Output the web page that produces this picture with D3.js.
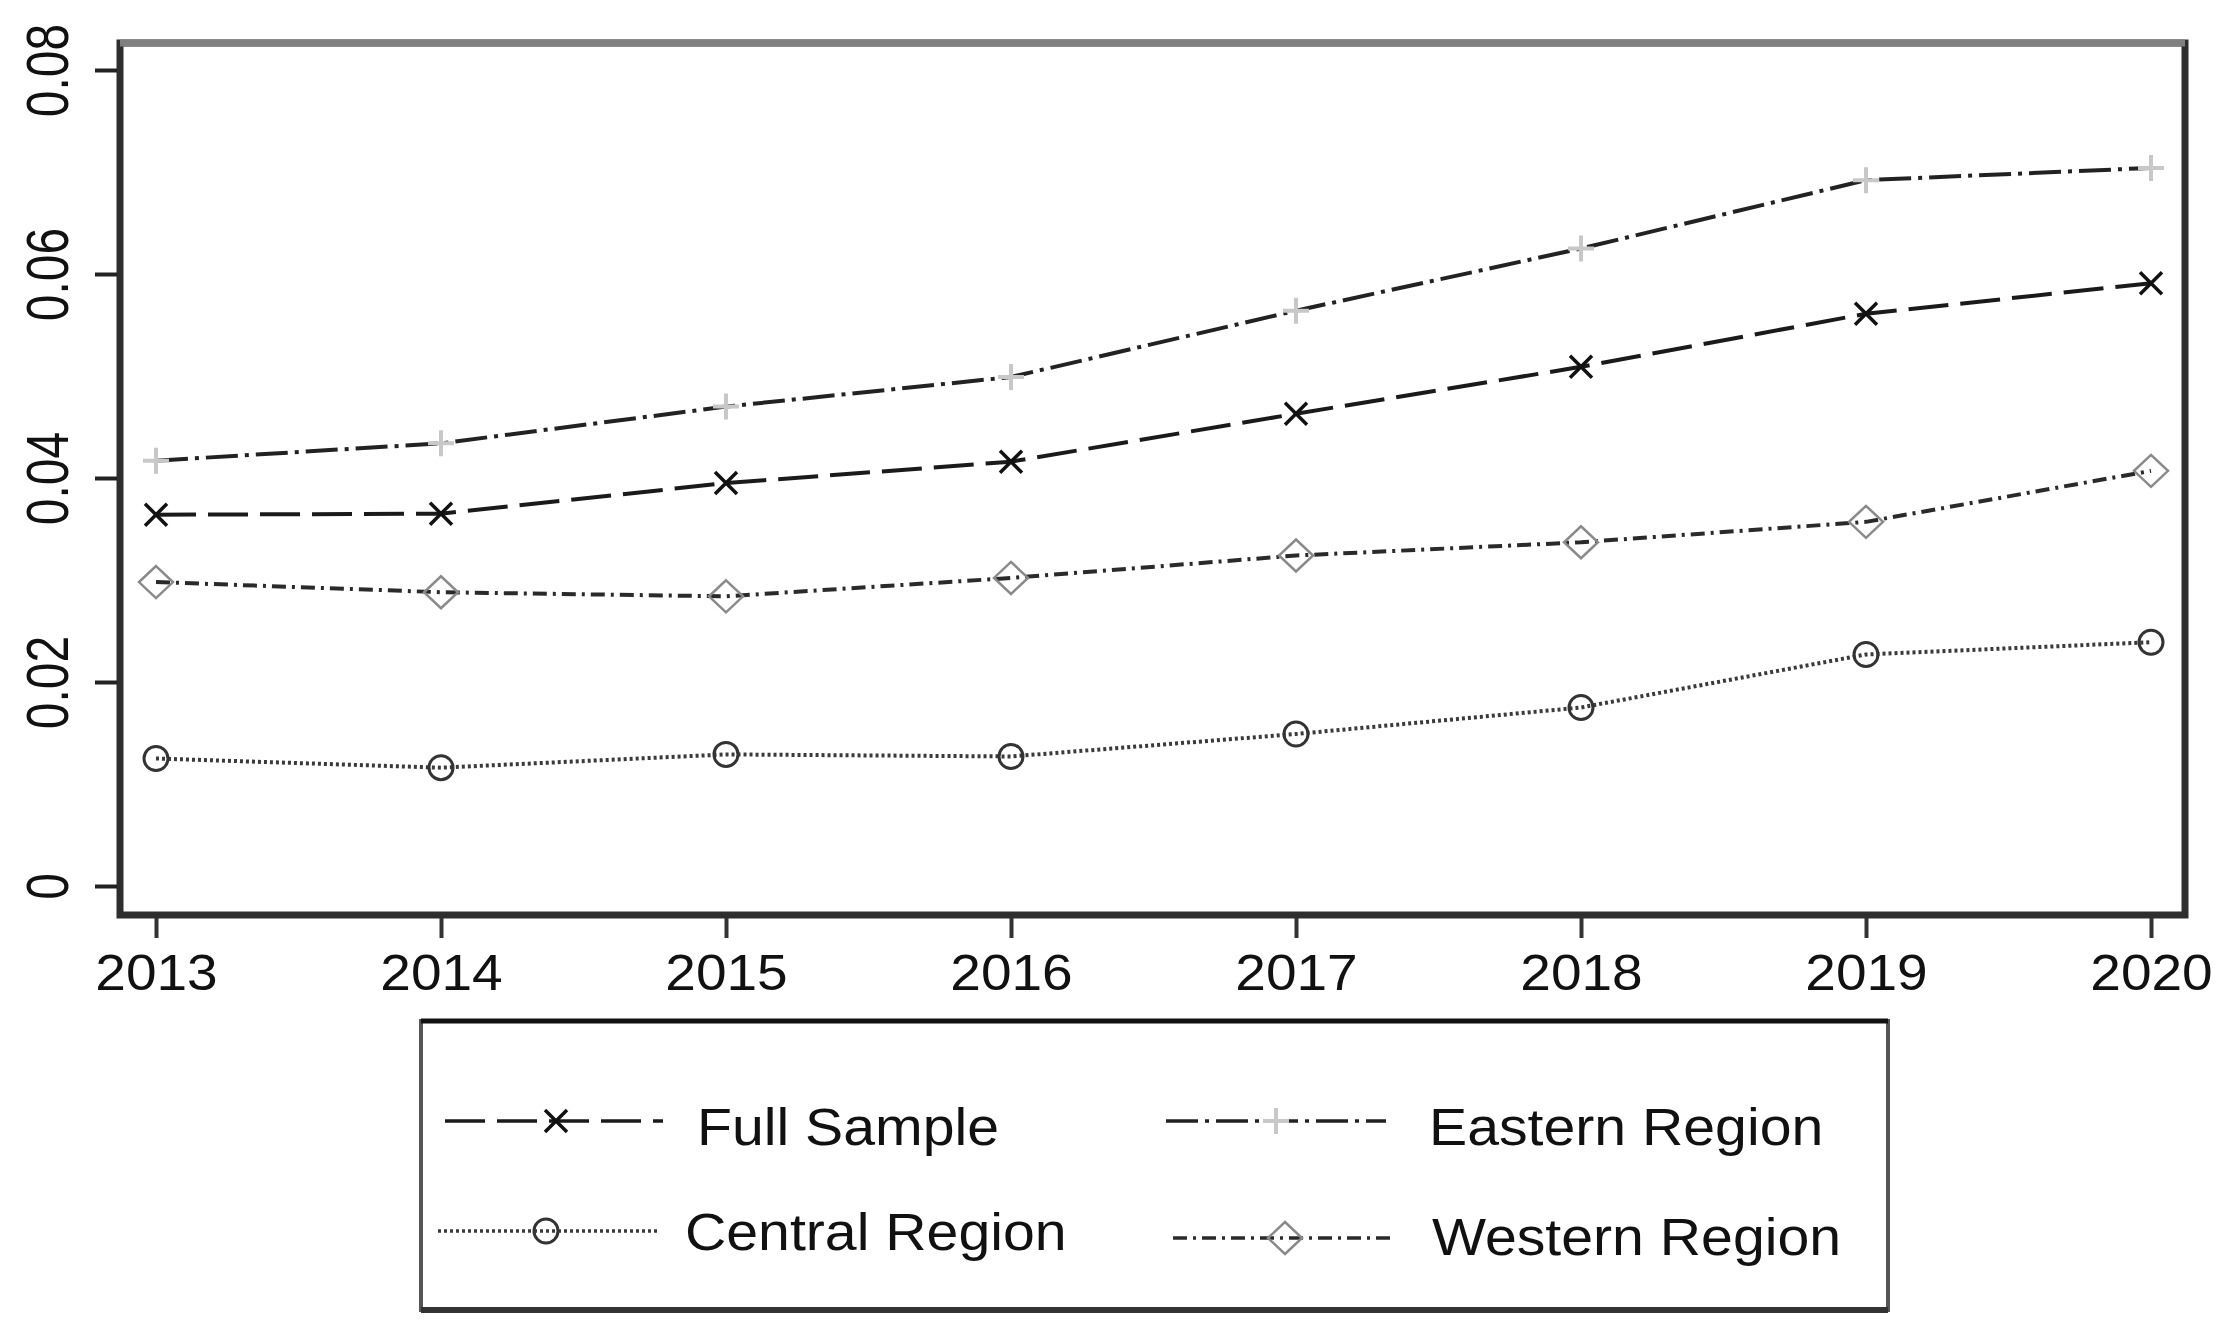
<!DOCTYPE html>
<html>
<head>
<meta charset="utf-8">
<script src="https://cdn.jsdelivr.net/npm/d3@7"></script>
<style>
  body { margin: 0; background: #fff; }
  text { font-family: "Liberation Sans", Arial, sans-serif; fill: #111; }
</style>
</head>
<body>
<div id="chart"></div>
<script>
// data
var years = [2013, 2014, 2015, 2016, 2017, 2018, 2019, 2020];
var fullSample = [0.0364, 0.0365, 0.0395, 0.0416, 0.0463, 0.0509, 0.0561, 0.0591];
var eastern = [0.0417, 0.0434, 0.0470, 0.0499, 0.0564, 0.0625, 0.0692, 0.0704];
var central = [0.0125, 0.0116, 0.0129, 0.0127, 0.0149, 0.0175, 0.0227, 0.0239];
var western = [0.0298, 0.0288, 0.0284, 0.0302, 0.0324, 0.0337, 0.0357, 0.0407];
var yTicks = [0, 0.02, 0.04, 0.06, 0.08];
var seriesNames = ["Full Sample", "Eastern Region", "Central Region", "Western Region"];

const width = 2227;
const height = 1339;

// plot frame
const frame = { left: 120, top: 43, right: 2185, bottom: 915 };

const svg = d3.select("#chart").append("svg")
    .attr("width", width)
    .attr("height", height);

const x = d3.scaleLinear().domain([2013, 2020]).range([156, 2151]);
const y = d3.scaleLinear().domain([0, 0.08]).range([886, 70]);

// series styles: dash, marker, colours
var styles = [
    { values: fullSample, dash: "40,12", stroke: "#1a1a1a", marker: "x", mcol: "#111" },
    { values: eastern, dash: "32,7,4,7", stroke: "#222", marker: "plus", mcol: "#c8c8c8" },
    { values: central, dash: "3,3", stroke: "#3a3a3a", marker: "circle", mcol: "#333" },
    { values: western, dash: "14,6,3,6", stroke: "#2a2a2a", marker: "diamond", mcol: "#8a8a8a" }
];

// frame box
svg.append("rect")
    .attr("x", frame.left).attr("y", frame.top)
    .attr("width", frame.right - frame.left)
    .attr("height", frame.bottom - frame.top)
    .attr("fill", "none")
    .attr("stroke", "#2e2e2e")
    .attr("stroke-width", 7);
svg.append("line")
    .attr("x1", frame.left).attr("x2", frame.right)
    .attr("y1", frame.top).attr("y2", frame.top)
    .attr("stroke", "#808080").attr("stroke-width", 7);

// y axis
const yAxis = svg.append("g")
    .attr("transform", `translate(${frame.left - 3},0)`)
    .call(d3.axisLeft(y).tickValues(yTicks).tickSize(22).tickPadding(0)
        .tickFormat(d => d === 0 ? "0" : d3.format(".2f")(d)));
yAxis.select(".domain").remove();
yAxis.selectAll(".tick line").attr("stroke", "#222").attr("stroke-width", 4);
yAxis.selectAll(".tick text")
    .attr("x", null).attr("dy", null)
    .attr("text-anchor", "middle")
    .attr("dominant-baseline", "central")
    .attr("font-size", 48)
    .attr("fill", "#111")
    .attr("transform", "translate(-69,0) rotate(-90) scale(1,1.25)");

// x axis
const xAxis = svg.append("g")
    .attr("transform", `translate(0,${frame.bottom + 3})`)
    .call(d3.axisBottom(x).tickValues(years).tickSize(20).tickFormat(d3.format("d")));
xAxis.select(".domain").remove();
xAxis.selectAll(".tick line").attr("stroke", "#333").attr("stroke-width", 4);
xAxis.selectAll(".tick text")
    .attr("y", null).attr("dy", null)
    .attr("font-size", 50)
    .attr("fill", "#111")
    .attr("transform", "translate(0,72) scale(1.1,1)");

// draws one marker shape
function drawMarker(g, type, cx, cy, col) {
    if (type === "x") {
        const s = 11;
        g.append("path")
            .attr("d", `M${cx - s},${cy - s}L${cx + s},${cy + s}M${cx - s},${cy + s}L${cx + s},${cy - s}`)
            .attr("stroke", col).attr("stroke-width", 3.5).attr("fill", "none");
    } else if (type === "plus") {
        const s = 13;
        g.append("path")
            .attr("d", `M${cx - s},${cy}L${cx + s},${cy}M${cx},${cy - s}L${cx},${cy + s}`)
            .attr("stroke", col).attr("stroke-width", 4).attr("fill", "none");
    } else if (type === "circle") {
        g.append("circle")
            .attr("cx", cx).attr("cy", cy).attr("r", 12)
            .attr("stroke", col).attr("stroke-width", 3).attr("fill", "none");
    } else if (type === "diamond") {
        const w = 17, h = 16;
        g.append("path")
            .attr("d", `M${cx},${cy - h}L${cx + w},${cy}L${cx},${cy + h}L${cx - w},${cy}Z`)
            .attr("stroke", col).attr("stroke-width", 2.5).attr("fill", "none");
    }
}

// lines and markers
const line = d3.line().x((d, i) => x(years[i])).y(d => y(d));
styles.forEach(function(s) {
    svg.append("path")
        .datum(s.values)
        .attr("d", line)
        .attr("fill", "none")
        .attr("stroke", s.stroke)
        .attr("stroke-width", 4)
        .attr("stroke-dasharray", s.dash);
    const mg = svg.append("g");
    s.values.forEach(function(v, i) {
        drawMarker(mg, s.marker, x(years[i]), y(v), s.mcol);
    });
});

// legend
const legendBox = { x: 421, y: 1021, w: 1467, h: 289 };
svg.append("rect")
    .attr("x", legendBox.x).attr("y", legendBox.y)
    .attr("width", legendBox.w).attr("height", legendBox.h)
    .attr("fill", "#fff")
    .attr("stroke", "#555")
    .attr("stroke-width", 4);
svg.append("line")
    .attr("x1", legendBox.x).attr("x2", legendBox.x + legendBox.w)
    .attr("y1", legendBox.y).attr("y2", legendBox.y)
    .attr("stroke", "#111").attr("stroke-width", 5);
svg.append("line")
    .attr("x1", legendBox.x).attr("x2", legendBox.x + legendBox.w)
    .attr("y1", legendBox.y + legendBox.h).attr("y2", legendBox.y + legendBox.h)
    .attr("stroke", "#333").attr("stroke-width", 6);

var legendPos = [
    { x1: 445, x2: 663, ly: 1121, mx: 556, tx: 697, ty: 1145 },
    { x1: 1166, x2: 1386, ly: 1121, mx: 1276, tx: 1429, ty: 1145 },
    { x1: 438, x2: 658, ly: 1231, mx: 546, tx: 685, ty: 1250 },
    { x1: 1173, x2: 1395, ly: 1238, mx: 1285, tx: 1432, ty: 1255 }
];

styles.forEach(function(s, i) {
    const p = legendPos[i];
    const g = svg.append("g");
    g.append("line")
        .attr("x1", p.x1).attr("x2", p.x2)
        .attr("y1", p.ly).attr("y2", p.ly)
        .attr("stroke", s.stroke)
        .attr("stroke-width", 3.5)
        .attr("stroke-dasharray", s.dash);
    drawMarker(g, s.marker, p.mx, p.ly, s.mcol);
    g.append("text")
        .attr("transform", `translate(${p.tx},${p.ty}) scale(1.1,1)`)
        .attr("font-size", 52)
        .text(seriesNames[i]);
});
</script>
</body>
</html>
